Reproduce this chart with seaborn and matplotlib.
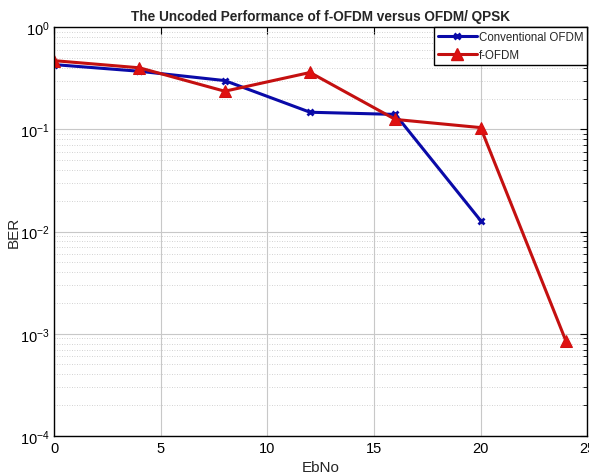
import seaborn as sns
import matplotlib.pyplot as plt
import matplotlib.ticker as mticker
from matplotlib.lines import Line2D
import numpy as np

ebno_ofdm = [0, 4, 8, 12, 16, 20]
ber_ofdm = [0.43, 0.37, 0.30, 0.147, 0.14, 0.0128]

ebno_fofdm = [0, 4, 8, 12, 16, 20, 24]
ber_fofdm = [0.47, 0.40, 0.236, 0.36, 0.125, 0.104, 0.00085]

sns.set_style('white')
plt.rcParams['font.family'] = ['Liberation Sans', 'DejaVu Sans']
plt.rcParams['mathtext.fontset'] = 'custom'
plt.rcParams['mathtext.rm'] = 'Liberation Sans'

fig = plt.figure(figsize=(5.89, 4.77), dpi=100)
ax = fig.add_axes([0.092, 0.084, 0.905, 0.857])

blue = '#0a0aa8'
red = '#c41010'
# two calls, since seaborn won't mix line-art and filled markers in one
sns.lineplot(x=ebno_ofdm, y=ber_ofdm, color=blue, marker='x', markersize=5,
             markeredgewidth=2, markeredgecolor=blue, linewidth=2.2, ax=ax)
sns.lineplot(x=ebno_fofdm, y=ber_fofdm, color=red, marker='^', markersize=9,
             markerfacecolor='#e01010', markeredgecolor='#d01010', linewidth=2.2, ax=ax)

ax.set_yscale('log')
ax.set_xlim(0, 25)
ax.set_ylim(1e-4, 1)
ax.set_xticks([0, 5, 10, 15, 20, 25])
ax.yaxis.set_major_locator(mticker.LogLocator(base=10, numticks=10))
ax.yaxis.set_minor_locator(mticker.LogLocator(base=10, subs=np.arange(2, 10), numticks=10))
ax.yaxis.set_minor_formatter(mticker.NullFormatter())

ax.grid(True, which='major', axis='both', color='#c8c8c8', linewidth=0.8, linestyle='-')
ax.grid(True, which='minor', axis='y', color='#c4c4c4', linewidth=0.6, linestyle=(0, (1, 2)))

ax.tick_params(which='both', direction='in', top=True, right=True, labelsize=10.5, colors='black')
ax.tick_params(which='major', length=5)
ax.tick_params(which='minor', length=3)
for s in ax.spines.values():
    s.set_color('black')
    s.set_linewidth(1.0)

ax.set_xlabel('EbNo', fontsize=11)
ax.set_ylabel('BER', fontsize=11)
ax.yaxis.set_label_coords(-0.062, 0.5)
ax.set_title('The Uncoded Performance of f-OFDM versus OFDM/ QPSK', fontsize=9.8, fontweight='bold', pad=5)

handles = [Line2D([], [], color=blue, marker='x', markersize=5, markeredgewidth=2, linewidth=2.2),
           Line2D([], [], color=red, marker='^', markersize=9, markerfacecolor='#e01010',
                  markeredgecolor='#d01010', linewidth=2.2)]
leg = ax.legend(handles, ['Conventional OFDM', 'f-OFDM'], loc='upper right', fontsize=8.3,
                frameon=True, fancybox=False, framealpha=1, edgecolor='black',
                borderaxespad=0.0, handlelength=3.4, labelspacing=0.5, borderpad=0.35,
                handletextpad=0.15)
leg.get_frame().set_linewidth(1.0)

fig.savefig('out.png', dpi=100)
